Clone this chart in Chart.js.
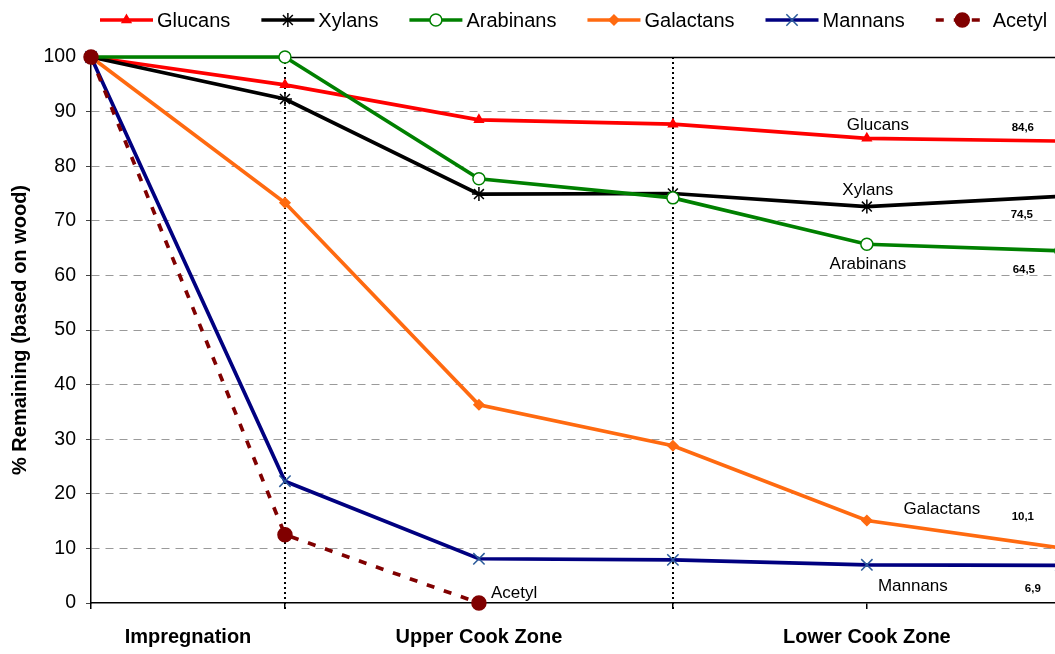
<!DOCTYPE html>
<html>
<head>
<meta charset="utf-8">
<script src="https://cdn.jsdelivr.net/npm/chart.js@4/dist/chart.umd.min.js"></script>
<style>
  html, body { margin: 0; padding: 0; background: #fff; overflow: hidden; }
  #wrap { width: 1055px; height: 654px; position: relative; }
</style>
</head>
<body>
<div id="wrap"><canvas id="c"></canvas></div>
<script>
// Process stages (x = 0 .. 5) and the share of each wood component left
const stages = [0, 1, 2, 3, 4, 5];
const glucans   = [100, 94.9, 88.5, 87.7, 85.1, 84.6];
const xylans    = [100, 92.3, 74.9, 75.0, 72.6, 74.5];
const arabinans = [100, 100, 77.7, 74.2, 65.7, 64.5];
const galactans = [100, 73.3, 36.3, 28.8, 15.1, 10.1];
const mannans   = [100, 22.3, 8.1, 7.9, 7.0, 6.9];
const acetyl    = [100, 12.5, 0];

const zoneLabels = ['Impregnation', 'Upper Cook Zone', 'Lower Cook Zone'];
const zoneTicks  = [0.5, 2, 4];
const yTicks     = [0, 10, 20, 30, 40, 50, 60, 70, 80, 90, 100];
const zoneBounds = [1, 3];

const FONT = "'Liberation Sans', Arial, sans-serif";

const pts = arr => arr.map((v, i) => ({ x: stages[i], y: v }));

function series(label, values, color, style, extra) {
  return Object.assign({
    label, data: pts(values),
    borderColor: color, backgroundColor: color,
    borderWidth: 3.7, pointStyle: style,
    pointBackgroundColor: color, pointBorderColor: color,
    pointBorderWidth: 1.5, pointRadius: 5,
    tension: 0, clip: false, fill: false
  }, extra || {});
}

const datasets = [
  series('Glucans', glucans, '#ff0000', 'triangle', { pointRadius: 5 }),
  series('Xylans', xylans, '#000000', 'star', { pointRadius: 7 }),
  series('Arabinans', arabinans, '#008000', 'circle', { pointRadius: 6, pointBackgroundColor: '#ffffff' }),
  series('Galactans', galactans, '#ff6a10', 'rectRot', { pointRadius: 5 }),
  series('Mannans', mannans, '#000080', 'crossRot', { pointRadius: 8, pointBorderColor: '#2a5a9a' }),
  series('Acetyl', acetyl, '#800000', 'circle', { pointRadius: 7, borderDash: [8, 10] })
];
// later series are painted over earlier ones
datasets.forEach((d, i) => { d.order = datasets.length - 1 - i; });

// annotation text next to the curves (offsets in pixels from a data point)
const nameNotes = [
  { ds: 0, idx: 4, dx: 11, dy: -13, align: 'center' },
  { ds: 1, idx: 4, dx: 1, dy: -16, align: 'center' },
  { ds: 2, idx: 4, dx: 1, dy: 20, align: 'center' },
  { ds: 3, idx: 4, dx: 75, dy: -11, align: 'center' },
  { ds: 4, idx: 4, dx: 46, dy: 22, align: 'center' },
  { ds: 5, idx: 2, dx: 12, dy: -10, align: 'left' }
];
const valueNotes = [
  { ds: 0, dx: -38, dy: -13 },
  { ds: 1, dx: -39, dy: 19 },
  { ds: 2, dx: -37, dy: 19 },
  { ds: 3, dx: -38, dy: -31 },
  { ds: 4, dx: -28, dy: 24 }
];

const framePlugin = {
  id: 'frame',
  beforeDatasetsDraw(chart) {
    const { ctx, chartArea: a, scales: { x } } = chart;
    ctx.save();
    // solid line along the 100 % level
    ctx.strokeStyle = '#000';
    ctx.lineWidth = 1.5;
    ctx.beginPath();
    ctx.moveTo(a.left, a.top + 0.5);
    ctx.lineTo(a.right, a.top + 0.5);
    ctx.stroke();
    // dotted separators between the zones
    ctx.lineWidth = 2;
    ctx.setLineDash([2, 3]);
    zoneBounds.forEach(v => {
      const px = Math.round(x.getPixelForValue(v));
      ctx.beginPath();
      ctx.moveTo(px, a.top);
      ctx.lineTo(px, a.bottom + 6);
      ctx.stroke();
    });
    ctx.restore();
  },
  afterDatasetsDraw(chart) {
    const { ctx } = chart;
    ctx.save();
    ctx.fillStyle = '#000';
    ctx.textBaseline = 'middle';
    ctx.font = '17px ' + FONT;
    nameNotes.forEach(n => {
      const el = chart.getDatasetMeta(n.ds).data[n.idx];
      ctx.textAlign = n.align;
      ctx.fillText(chart.data.datasets[n.ds].label, el.x + n.dx, el.y + n.dy);
    });
    ctx.font = 'bold 11.5px ' + FONT;
    ctx.textAlign = 'center';
    valueNotes.forEach(n => {
      const meta = chart.getDatasetMeta(n.ds);
      const last = meta.data[meta.data.length - 1];
      const v = chart.data.datasets[n.ds].data[meta.data.length - 1].y;
      ctx.fillText(v.toFixed(1).replace('.', ','), last.x + n.dx, last.y + n.dy);
    });
    ctx.restore();
  },
  afterDraw(chart) {
    // legend row: line sample with marker, then the series name
    const { ctx } = chart;
    ctx.save();
    ctx.font = '20px ' + FONT;
    ctx.textBaseline = 'middle';
    ctx.textAlign = 'left';
    let lx = 100;
    const ly = 20, len = 53;
    chart.data.datasets.forEach(d => {
      ctx.strokeStyle = d.borderColor;
      ctx.lineWidth = d.borderWidth;
      ctx.setLineDash(d.borderDash || []);
      ctx.beginPath();
      ctx.moveTo(lx, ly);
      ctx.lineTo(lx + len, ly);
      ctx.stroke();
      ctx.setLineDash([]);
      ctx.fillStyle = d.pointBackgroundColor;
      ctx.strokeStyle = d.pointBorderColor;
      ctx.lineWidth = d.pointBorderWidth;
      Chart.helpers.drawPoint(ctx, {
        pointStyle: d.pointStyle, rotation: 0,
        radius: d.pointRadius, borderWidth: d.pointBorderWidth
      }, lx + len / 2, ly);
      ctx.fillStyle = '#000';
      const tx = lx + len + 4;
      ctx.fillText(d.label, tx, ly + 1);
      lx = tx + ctx.measureText(d.label).width + 31;
    });
    ctx.restore();
  }
};

new Chart(document.getElementById('c'), {
  type: 'line',
  data: { datasets },
  plugins: [framePlugin],
  options: {
    responsive: true,
    maintainAspectRatio: false,
    animation: false,
    layout: { autoPadding: false, padding: { top: 57, left: 0, right: 0, bottom: 0 } },
    plugins: { legend: { display: false }, tooltip: { enabled: false } },
    scales: {
      x: {
        type: 'linear',
        min: 0,
        max: 4.97,
        afterFit: s => { s.height = 51; },
        afterBuildTicks: s => { s.ticks = [0, 0.5, 1, 2, 3, 4].map(v => ({ value: v })); },
        ticks: {
          autoSkip: false, maxRotation: 0, minRotation: 0, padding: 16,
          color: '#000',
          font: { family: FONT, size: 20, weight: 'bold' },
          callback: v => { const i = zoneTicks.indexOf(v); return i >= 0 ? zoneLabels[i] : ''; }
        },
        grid: {
          drawOnChartArea: false, drawTicks: true, tickLength: 6, lineWidth: 1.5,
          color: c => (c.tick && c.tick.value === 0.5) ? 'rgba(0,0,0,0)' : '#000'
        },
        border: { display: true, color: '#000', width: 1.5 }
      },
      y: {
        min: 0,
        max: 100,
        afterFit: s => { s.width = 91; },
        afterBuildTicks: s => { s.ticks = yTicks.map(v => ({ value: v })); },
        ticks: {
          padding: 10, color: '#000',
          font: { family: FONT, size: 19.5 }
        },
        grid: {
          drawTicks: true, tickLength: 5, lineWidth: 1,
          tickColor: '#444',
          color: c => (c.tick && (c.tick.value === 0 || c.tick.value === 100)) ? 'rgba(0,0,0,0)' : '#9a9a9a'
        },
        border: { display: true, color: '#000', width: 1.5, dash: [8, 6] },
        title: {
          display: true,
          text: '% Remaining (based on wood)',
          color: '#000',
          font: { family: FONT, size: 20, weight: 'bold' },
          padding: { top: 8, bottom: 0 }
        }
      }
    }
  }
});
</script>
</body>
</html>
